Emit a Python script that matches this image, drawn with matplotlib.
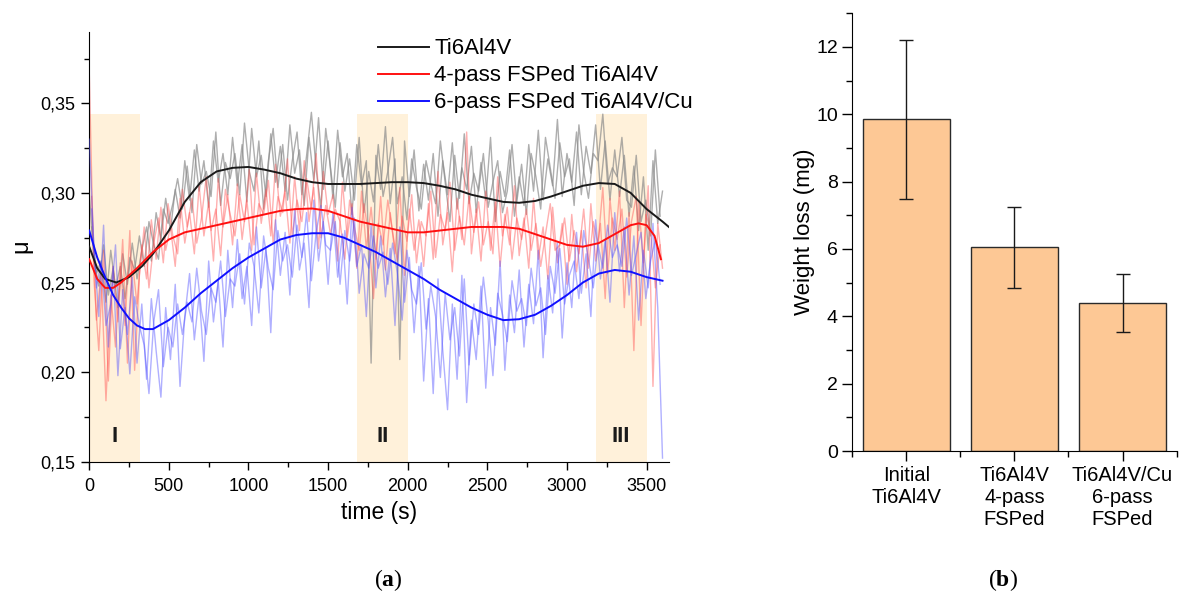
import numpy as np
import matplotlib
matplotlib.use("Agg")
import matplotlib.pyplot as plt
from matplotlib.ticker import MultipleLocator, FuncFormatter

plt.rcParams["font.family"] = ["Liberation Sans", "DejaVu Sans"]
plt.rcParams["mathtext.fontset"] = "custom"
plt.rcParams["mathtext.rm"] = "Liberation Serif"
plt.rcParams["mathtext.bf"] = "Liberation Serif:bold"

# ---- (a) friction coefficient vs time ----
# raw traces, sampled every 30 s (values read off the picture)
raw_step = 30
gray_raw = [
    0.300, 0.262, 0.248, 0.271, 0.243, 0.258, 0.236, 0.266, 0.249, 0.272, 0.252,
    0.268, 0.281, 0.262, 0.289, 0.274, 0.297, 0.279, 0.302, 0.286, 0.318,
    0.296, 0.324, 0.301, 0.318, 0.292, 0.329, 0.306, 0.322, 0.299, 0.331,
    0.304, 0.327, 0.295, 0.336, 0.309, 0.321, 0.298, 0.333, 0.306, 0.326,
    0.301, 0.338, 0.311, 0.324, 0.293, 0.331, 0.307, 0.342, 0.302, 0.329,
    0.297, 0.335, 0.309, 0.322, 0.288, 0.327, 0.304, 0.318, 0.205, 0.321,
    0.302, 0.337, 0.294, 0.319, 0.207, 0.329, 0.298, 0.324, 0.290, 0.316,
    0.296, 0.322, 0.287, 0.318, 0.299, 0.328, 0.291, 0.314, 0.302, 0.326,
    0.289, 0.317, 0.296, 0.331, 0.284, 0.312, 0.298, 0.324, 0.287, 0.309,
    0.293, 0.327, 0.301, 0.335, 0.296, 0.319, 0.304, 0.341, 0.298, 0.322,
    0.306, 0.334, 0.299, 0.326, 0.311, 0.338, 0.302, 0.329, 0.296, 0.324,
    0.298, 0.321, 0.287, 0.315, 0.279, 0.309, 0.268, 0.318, 0.283, 0.301,
]
red_raw = [
    0.368, 0.251, 0.212, 0.268, 0.195, 0.259, 0.228, 0.274, 0.205, 0.262, 0.238,
    0.271, 0.252, 0.285, 0.263, 0.292, 0.268, 0.281, 0.259, 0.297, 0.272,
    0.289, 0.266, 0.304, 0.276, 0.295, 0.262, 0.308, 0.281, 0.299, 0.271,
    0.305, 0.274, 0.296, 0.268, 0.311, 0.283, 0.302, 0.276, 0.316, 0.287,
    0.301, 0.272, 0.309, 0.279, 0.318, 0.284, 0.303, 0.269, 0.312, 0.288,
    0.299, 0.262, 0.306, 0.275, 0.294, 0.258, 0.301, 0.269, 0.292, 0.263,
    0.298, 0.257, 0.289, 0.266, 0.303, 0.254, 0.291, 0.268, 0.285, 0.259,
    0.294, 0.263, 0.312, 0.271, 0.289, 0.256, 0.297, 0.274, 0.334, 0.266,
    0.291, 0.262, 0.301, 0.268, 0.295, 0.259, 0.288, 0.271, 0.304, 0.265,
    0.286, 0.258, 0.297, 0.263, 0.281, 0.252, 0.292, 0.261, 0.283, 0.249,
    0.288, 0.256, 0.279, 0.247, 0.294, 0.262, 0.283, 0.241, 0.297, 0.268,
    0.301, 0.236, 0.289, 0.212, 0.295, 0.261, 0.304, 0.192, 0.283, 0.258,
]
blue_raw = [
    0.330, 0.268, 0.231, 0.282, 0.214, 0.259, 0.198, 0.246, 0.221, 0.253, 0.205,
    0.238, 0.196, 0.241, 0.212, 0.186, 0.236, 0.207, 0.249, 0.192, 0.231,
    0.255, 0.218, 0.243, 0.206, 0.262, 0.228, 0.251, 0.214, 0.268, 0.236,
    0.274, 0.241, 0.259, 0.226, 0.281, 0.247, 0.269, 0.222, 0.285, 0.254,
    0.278, 0.243, 0.291, 0.257, 0.272, 0.236, 0.296, 0.262, 0.284, 0.249,
    0.289, 0.253, 0.277, 0.238, 0.292, 0.259, 0.271, 0.231, 0.282, 0.247,
    0.276, 0.242, 0.269, 0.226, 0.281, 0.239, 0.264, 0.222, 0.259, 0.195,
    0.241, 0.188, 0.252, 0.212, 0.179, 0.238, 0.196, 0.254, 0.183, 0.229,
    0.207, 0.248, 0.191, 0.236, 0.215, 0.262, 0.201, 0.243, 0.222, 0.257,
    0.214, 0.249, 0.227, 0.268, 0.208, 0.254, 0.233, 0.272, 0.219, 0.261,
    0.236, 0.278, 0.244, 0.266, 0.231, 0.285, 0.252, 0.274, 0.239, 0.289,
    0.256, 0.281, 0.243, 0.276, 0.229, 0.268, 0.247, 0.283, 0.236, 0.152,
]
# the in-between samples (15 s, 45 s, ...)
gray_mid = [
    0.281, 0.255, 0.262, 0.239, 0.268, 0.247, 0.259, 0.241, 0.264, 0.257,
    0.276, 0.259, 0.284, 0.271, 0.263, 0.291, 0.283, 0.294, 0.308, 0.291,
    0.315, 0.289, 0.327, 0.305, 0.312, 0.298, 0.334, 0.293, 0.317, 0.308,
    0.322, 0.299, 0.339, 0.312, 0.301, 0.329, 0.291, 0.318, 0.336, 0.303,
    0.327, 0.296, 0.318, 0.334, 0.299, 0.321, 0.345, 0.313, 0.292, 0.336,
    0.314, 0.292, 0.328, 0.301, 0.319, 0.296, 0.331, 0.289, 0.312, 0.295,
    0.327, 0.298, 0.312, 0.331, 0.294, 0.309, 0.285, 0.319, 0.303, 0.291,
    0.318, 0.305, 0.294, 0.329, 0.306, 0.284, 0.321, 0.297, 0.333, 0.294,
    0.311, 0.301, 0.322, 0.292, 0.306, 0.318, 0.289, 0.301, 0.327, 0.295,
    0.316, 0.288, 0.322, 0.309, 0.291, 0.331, 0.314, 0.297, 0.328, 0.309,
    0.319, 0.293, 0.338, 0.312, 0.297, 0.322, 0.318, 0.344, 0.305, 0.314,
    0.309, 0.331, 0.296, 0.292, 0.321, 0.284, 0.296, 0.276, 0.324, 0.287,
]
red_mid = [
    0.298, 0.229, 0.256, 0.184, 0.243, 0.214, 0.261, 0.226, 0.279, 0.201,
    0.254, 0.281, 0.247, 0.272, 0.286, 0.261, 0.294, 0.276, 0.266, 0.302,
    0.281, 0.297, 0.272, 0.286, 0.309, 0.279, 0.291, 0.265, 0.302, 0.288,
    0.276, 0.299, 0.284, 0.313, 0.271, 0.294, 0.288, 0.307, 0.272, 0.298,
    0.289, 0.319, 0.276, 0.296, 0.284, 0.308, 0.291, 0.322, 0.275, 0.293,
    0.277, 0.291, 0.284, 0.263, 0.296, 0.281, 0.268, 0.294, 0.276, 0.241,
    0.283, 0.271, 0.296, 0.278, 0.262, 0.287, 0.273, 0.299, 0.261, 0.284,
    0.276, 0.301, 0.264, 0.288, 0.279, 0.306, 0.268, 0.287, 0.271, 0.298,
    0.278, 0.295, 0.271, 0.284, 0.266, 0.309, 0.276, 0.292, 0.263, 0.286,
    0.274, 0.291, 0.268, 0.283, 0.259, 0.277, 0.294, 0.268, 0.271, 0.286,
    0.262, 0.279, 0.266, 0.291, 0.258, 0.284, 0.271, 0.303, 0.255, 0.286,
    0.274, 0.291, 0.253, 0.284, 0.298, 0.226, 0.288, 0.279, 0.247, 0.271,
]
blue_mid = [
    0.291, 0.247, 0.262, 0.226, 0.238, 0.271, 0.213, 0.236, 0.199, 0.242,
    0.226, 0.215, 0.188, 0.228, 0.246, 0.203, 0.225, 0.214, 0.238, 0.221,
    0.239, 0.228, 0.258, 0.234, 0.221, 0.247, 0.239, 0.262, 0.231, 0.252,
    0.248, 0.266, 0.238, 0.272, 0.259, 0.233, 0.276, 0.258, 0.246, 0.279,
    0.262, 0.271, 0.253, 0.282, 0.264, 0.289, 0.251, 0.278, 0.293, 0.271,
    0.268, 0.284, 0.249, 0.279, 0.262, 0.286, 0.244, 0.266, 0.258, 0.276,
    0.258, 0.267, 0.249, 0.272, 0.255, 0.229, 0.268, 0.246, 0.238, 0.261,
    0.224, 0.248, 0.231, 0.197, 0.244, 0.218, 0.236, 0.209, 0.252, 0.204,
    0.238, 0.221, 0.253, 0.229, 0.198, 0.244, 0.232, 0.217, 0.251, 0.234,
    0.241, 0.226, 0.258, 0.237, 0.247, 0.221, 0.259, 0.244, 0.269, 0.238,
    0.254, 0.262, 0.241, 0.279, 0.263, 0.247, 0.271, 0.258, 0.282, 0.264,
    0.271, 0.259, 0.286, 0.254, 0.266, 0.278, 0.241, 0.262, 0.274, 0.249,
]

# smoothed curves
black_t = [0, 50, 100, 170, 250, 330, 400, 500, 600, 700, 800, 900, 1000, 1100,
           1200, 1300, 1400, 1500, 1600, 1700, 1800, 1900, 2000, 2100, 2200, 2300,
           2400, 2500, 2600, 2700, 2800, 2900, 3000, 3100, 3200, 3300, 3400, 3500,
           3600, 3640]
black_mu = [0.270, 0.258, 0.252, 0.250, 0.253, 0.259, 0.266, 0.279, 0.295, 0.306,
            0.312, 0.314, 0.3145, 0.313, 0.311, 0.308, 0.306, 0.305, 0.305, 0.305,
            0.3055, 0.306, 0.306, 0.3055, 0.304, 0.302, 0.299, 0.297, 0.295, 0.2945,
            0.2955, 0.298, 0.301, 0.304, 0.3055, 0.305, 0.300, 0.291, 0.284, 0.281]
red_t = [0, 50, 100, 150, 200, 300, 400, 500, 600, 700, 800, 900, 1000, 1100, 1200,
         1300, 1400, 1500, 1600, 1700, 1800, 1900, 2000, 2100, 2200, 2300, 2400, 2500,
         2600, 2700, 2800, 2900, 3000, 3100, 3200, 3300, 3400, 3450, 3500, 3550, 3590]
red_mu = [0.263, 0.252, 0.247, 0.247, 0.250, 0.258, 0.267, 0.274, 0.278, 0.280,
          0.282, 0.284, 0.286, 0.288, 0.290, 0.291, 0.2913, 0.290, 0.287, 0.284,
          0.282, 0.280, 0.278, 0.278, 0.279, 0.280, 0.281, 0.281, 0.281, 0.280,
          0.277, 0.274, 0.271, 0.270, 0.272, 0.277, 0.282, 0.283, 0.282, 0.276, 0.263]
blue_t = [0, 50, 100, 150, 200, 250, 300, 350, 400, 500, 600, 700, 800, 900, 1000,
          1100, 1200, 1300, 1400, 1500, 1600, 1700, 1800, 1900, 2000, 2100, 2200,
          2300, 2400, 2500, 2600, 2700, 2800, 2900, 3000, 3100, 3200, 3300, 3400,
          3500, 3600]
blue_mu = [0.279, 0.264, 0.253, 0.243, 0.236, 0.230, 0.226, 0.224, 0.224, 0.229,
           0.236, 0.244, 0.251, 0.258, 0.264, 0.269, 0.274, 0.2765, 0.2775, 0.2775,
           0.275, 0.271, 0.267, 0.262, 0.257, 0.252, 0.246, 0.241, 0.236, 0.232,
           0.229, 0.2295, 0.232, 0.237, 0.243, 0.250, 0.255, 0.257, 0.256, 0.253, 0.251]

series_names = ["Ti6Al4V", "4-pass FSPed Ti6Al4V", "6-pass FSPed Ti6Al4V/Cu"]
stages = [(0, 320, "I"), (1680, 2000, "II"), (3180, 3500, "III")]

# ---- (b) weight loss ----
samples = ["Initial\nTi6Al4V", "Ti6Al4V\n4-pass\nFSPed", "Ti6Al4V/Cu\n6-pass\nFSPed"]
weight_loss = [9.85, 6.05, 4.40]
weight_err = [2.37, 1.21, 0.87]

fig = plt.figure(figsize=(11.82, 5.98), dpi=100)

ax = fig.add_axes([0.0755, 0.228, 0.4904, 0.719])
for x0, x1, lab in stages:
    ax.fill_between([x0, x1], 0.15, 0.344, color="#FFF0D6", alpha=0.9, lw=0, zorder=0)
    ax.text((x0 + x1) / 2, 0.164, lab, ha="center", va="center",
            fontsize=16, fontweight="bold", color="#1a1a1a")

raw_t = np.arange(len(gray_raw)) * raw_step
mid_t = np.arange(len(gray_mid)) * raw_step + raw_step / 2
raw_style = [("#8c8c8c", 0.7, gray_raw, gray_mid),
             ("#FF5050", 0.45, red_raw, red_mid),
             ("#5050FF", 0.45, blue_raw, blue_mid)]
for z, (col, a, ys, ym) in enumerate(raw_style):
    ax.plot(raw_t, ys, color=col, lw=1.0, alpha=a, zorder=1 + z)
    ax.plot(mid_t, ym, color=col, lw=1.0, alpha=a, zorder=1 + z)

ax.plot(black_t, black_mu, color="#1a1a1a", lw=1.4, zorder=5, label=series_names[0])
ax.plot(red_t, red_mu, color="#FF1010", lw=1.4, zorder=5, label=series_names[1])
ax.plot(blue_t, blue_mu, color="#1010FF", lw=1.4, zorder=5, label=series_names[2])

ax.set_xlim(0, 3640)
ax.set_ylim(0.15, 0.39)
ax.set_yticks([0.15, 0.20, 0.25, 0.30, 0.35])
ax.yaxis.set_minor_locator(MultipleLocator(0.025))
ax.xaxis.set_major_locator(MultipleLocator(500))
ax.xaxis.set_minor_locator(MultipleLocator(250))
ax.yaxis.set_major_formatter(FuncFormatter(lambda v, p: f"{v:.2f}".replace(".", ",")))
ax.tick_params(which="major", direction="out", length=6, width=1, labelsize=13, pad=4)
ax.tick_params(which="minor", direction="out", length=3.5, width=1)
ax.tick_params(axis="x", which="major", pad=6)
for s in ["top", "right"]:
    ax.spines[s].set_visible(False)
ax.set_xlabel("time (s)", fontsize=16.5, labelpad=4)
ax.set_ylabel("μ", fontsize=17, labelpad=6)
leg = ax.legend(loc="upper left", bbox_to_anchor=(0.4825, 1.005), frameon=False,
                fontsize=16, handlelength=2.3, handletextpad=0.25, labelspacing=0.27,
                borderaxespad=0)

bx = fig.add_axes([0.7211, 0.2458, 0.2743, 0.732])
pos = np.arange(len(samples))
bx.bar(pos, weight_loss, width=0.8, color="#FDC895", edgecolor="#2a2a2a", lw=1.0)
bx.errorbar(pos, weight_loss, yerr=weight_err, fmt="none", ecolor="#1a1a1a",
            elinewidth=1.0, capsize=5, capthick=1.0)
bx.set_xlim(-0.5, 2.5)
bx.set_ylim(0, 13)
bx.set_xticks(pos)
bx.set_xticklabels(samples)
bx.xaxis.set_minor_locator(MultipleLocator(0.5))
bx.yaxis.set_major_locator(MultipleLocator(2))
bx.yaxis.set_minor_locator(MultipleLocator(1))
bx.tick_params(which="major", direction="out", length=7, width=1, labelsize=14.5)
bx.tick_params(which="minor", direction="out", length=4, width=1)
bx.tick_params(axis="y", labelsize=14)
for s in ["top", "right"]:
    bx.spines[s].set_visible(False)
bx.set_ylabel("Weight loss (mg)", fontsize=16, labelpad=1)

fig.text(388 / 1182, 1 - 580 / 598, r"($\mathbf{a}$)", ha="center", va="center",
         fontsize=17, family="Liberation Serif")
fig.text(1003 / 1182, 1 - 580 / 598, r"($\mathbf{b}$)", ha="center", va="center",
         fontsize=17, family="Liberation Serif")

fig.savefig("out.png", dpi=100)
